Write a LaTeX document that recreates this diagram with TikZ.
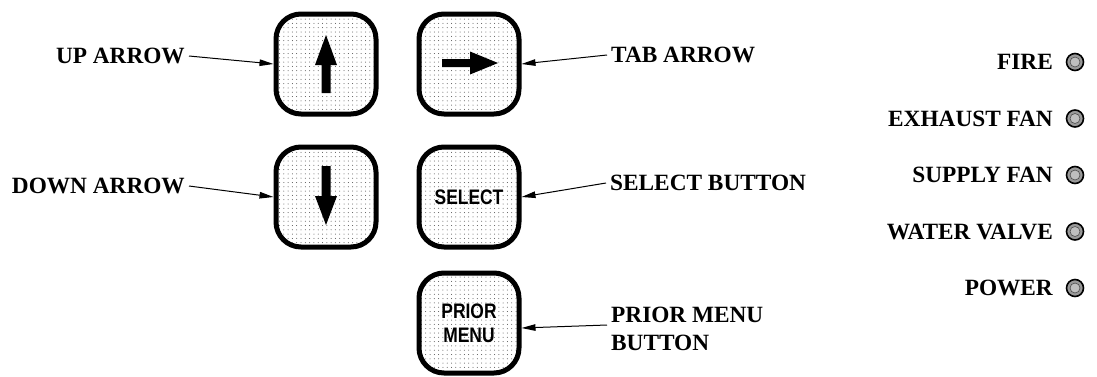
\documentclass[tikz,border=0pt]{standalone}
\usepackage{fontspec}
\setmainfont{Liberation Serif}
\newfontfamily\keyfont[FakeStretch=0.83]{Liberation Sans}
\usetikzlibrary{arrows.meta,patterns.meta}
\begin{document}
\begin{tikzpicture}[x=1pt,y=-1pt,
  keybox/.style={draw, line width=5pt, rounded corners=25pt, minimum width=100pt, minimum height=100pt,
    pattern={Dots[distance=4.3pt,radius=0.5pt]}, pattern color=black!70, inner sep=0pt,
    font=\keyfont\bfseries\fontsize{21pt}{26pt}\selectfont, align=center},
  lbl/.style={inner xsep=4pt, inner ysep=0pt, font=\fontsize{23.3pt}{28pt}\selectfont\bfseries},
  leader/.style={line width=1pt, -{Triangle[length=14pt,width=6.5pt]}},
  led/.style={circle, draw, line width=1.6pt, fill=black!40, minimum size=17pt, inner sep=0pt},
  ledin/.style={circle, draw=black!70, line width=0.6pt, fill=black!25, minimum size=10pt, inner sep=0pt}]
\useasboundingbox (0,0) rectangle (1097,376);

% keys
\node[keybox] (up) at (326,64) {};
\node[keybox] (tab) at (469,64) {};
\node[keybox] (down) at (326,197) {};
\node[keybox] (sel) at (469,197) {SELECT};
\node[keybox] (prior) at (469,323) {PRIOR\\[-2pt]MENU};

% glyph arrows
\begin{scope}[shift={(up.center)}]
  \fill (-4.5,29) -- (-4.5,1) -- (-11,1) -- (0,-29) -- (11,1) -- (4.5,1) -- (4.5,29) -- cycle;
\end{scope}
\begin{scope}[shift={(down.center)}]
  \fill (-4.5,-31) -- (-4.5,-1) -- (-11,-1) -- (0,28) -- (11,-1) -- (4.5,-1) -- (4.5,-31) -- cycle;
\end{scope}
\begin{scope}[shift={(tab.center)}]
  \fill (-27,-5) -- (1,-5) -- (1,-12.5) -- (29,-1) -- (1,10.5) -- (1,3) -- (-27,3) -- cycle;
\end{scope}

% left labels
\node[lbl, anchor=east] (uplbl) at (189,56) {UP ARROW};
\node[lbl, anchor=east] (downlbl) at (189,186) {DOWN ARROW};
\draw[leader] (uplbl.east) -- (up.west);
\draw[leader] (downlbl.east) -- (down.west);

% right labels
\node[lbl, anchor=west] (tablbl) at (607,55) {TAB ARROW};
\node[lbl, anchor=west] (sellbl) at (606,183) {SELECT BUTTON};
\node[lbl, anchor=west, align=left] (prilbl) at (607,329) {PRIOR MENU\\BUTTON};
\draw[leader] (tablbl.west) -- (tab.east);
\draw[leader] (sellbl.west) -- (sel.east);
\draw[leader] ([yshift=4pt]prilbl.west) -- ([yshift=-5pt]prior.east);

% indicator lamps
\foreach \n/\t/\y in {fire/FIRE/62, exh/EXHAUST FAN/118.5, sup/SUPPLY FAN/175, wat/WATER VALVE/231.5, pow/POWER/288}{
  \node[lbl, anchor=east, inner xsep=0pt] (\n lbl) at (1053,\y) {\t};
  \node[led] (\n) at (1075,\y) {};
  \node[ledin] at (\n.center) {};
}
\end{tikzpicture}
\end{document}
